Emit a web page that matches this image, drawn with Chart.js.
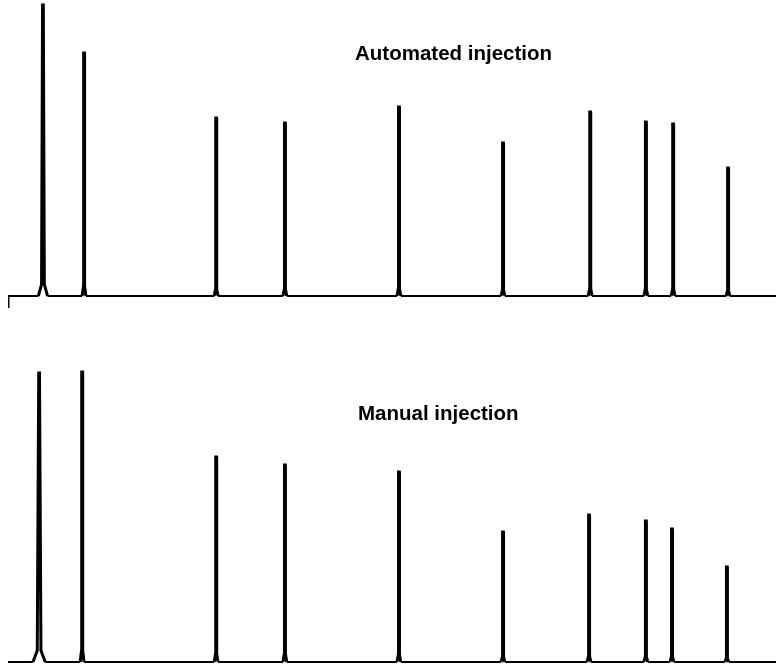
<!DOCTYPE html>
<html lang="en">
<head>
  <meta charset="UTF-8">
  <title>Automated vs manual injection</title>
  <style>
    html, body { margin: 0; padding: 0; background: #fff; }
    #wrap { position: relative; width: 776px; height: 668px; overflow: hidden; }
    canvas { position: absolute; left: 8px; }
    #c1 { top: 0; }
    #c2 { top: 360px; }
    .label { position: absolute; font-family: "Liberation Sans Narrow", "Liberation Sans", sans-serif;
             font-weight: bold; font-size: 20.5px; color: #000; white-space: nowrap; }
  </style>
  <script src="https://cdn.jsdelivr.net/npm/chart.js"></script>
</head>
<body>
  <div id="wrap">
    <canvas id="c1" width="768" height="312"></canvas>
    <canvas id="c2" width="768" height="306"></canvas>
    <div class="label" style="left:355px; top:41px;">Automated injection</div>
    <div class="label" style="left:358px; top:401px;">Manual injection</div>
  </div>
  <script>
    // retention times (min) and peak heights (detector units)
    const autoTimes   = [0.91, 1.98, 5.42, 7.21, 10.18, 12.89, 15.16, 16.61, 17.32, 18.75];
    const autoHeights = [291, 243, 178, 173, 189, 153, 184, 174, 172, 128];
    const autoWidths  = [0.12, 0.05, 0.05, 0.05, 0.05, 0.05, 0.05, 0.05, 0.05, 0.05];

    const manualTimes   = [0.81, 1.93, 5.42, 7.21, 10.18, 12.89, 15.13, 16.61, 17.29, 18.72];
    const manualHeights = [289, 290, 205, 197, 190, 130, 147, 141, 133, 95];
    const manualWidths  = [0.16, 0.05, 0.05, 0.05, 0.05, 0.05, 0.05, 0.05, 0.05, 0.05];

    const runStart = 0, runEnd = 20;

    // narrow gaussian-ish outline: flared foot, thin body
    function trace(times, heights, widths, startMark) {
      const pts = [];
      if (startMark) pts.push({x: runStart, y: startMark});
      pts.push({x: runStart, y: 0});
      times.forEach((t, i) => {
        const w = widths[i], h = heights[i];
        pts.push({x: t - w, y: 0});
        pts.push({x: t - w * 0.3, y: h * 0.04});
        pts.push({x: t - 0.01, y: h});
        pts.push({x: t + 0.01, y: h});
        pts.push({x: t + w * 0.3, y: h * 0.04});
        pts.push({x: t + w, y: 0});
      });
      pts.push({x: runEnd, y: 0});
      return pts;
    }

    function drawTrace(id, data, yMin, yMax) {
      new Chart(document.getElementById(id), {
        type: 'line',
        data: { datasets: [{
          data, borderColor: '#000', borderWidth: 3, pointRadius: 0, tension: 0, clip: false, fill: false,
          segment: { borderWidth: ctx => (ctx.p0.parsed.y === 0 && ctx.p1.parsed.y === 0) ? 2 : 3 }
        }] },
        options: {
          responsive: false, animation: false, devicePixelRatio: 1,
          layout: { padding: 0 },
          plugins: { legend: { display: false }, tooltip: { enabled: false } },
          scales: {
            x: { type: 'linear', min: runStart, max: runEnd, display: false },
            y: { min: yMin, max: yMax, display: false }
          }
        }
      });
    }

    drawTrace('c1', trace(autoTimes, autoHeights, autoWidths, -12), -16, 296);
    drawTrace('c2', trace(manualTimes, manualHeights, manualWidths, 0), -4, 302);
  </script>
</body>
</html>
